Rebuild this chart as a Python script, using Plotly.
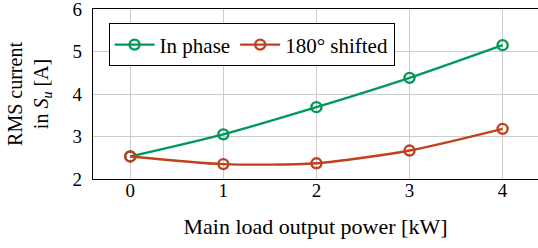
import plotly.graph_objects as go

power_kw = [0, 1, 2, 3, 4]
in_phase = [2.53, 3.05, 3.69, 4.38, 5.15]
shifted_180 = [2.53, 2.35, 2.37, 2.67, 3.18]
x_ticks = [0, 1, 2, 3, 4]
y_ticks = [2, 3, 4, 5, 6]

GREEN = "#00995a"
RED = "#c0401f"
FONT = "Liberation Serif"

fig = go.Figure()
for name, ys, col in [("In phase", in_phase, GREEN), ("180° shifted", shifted_180, RED)]:
    fig.add_trace(go.Scatter(
        x=power_kw, y=ys, name=name, mode="lines+markers",
        line=dict(color=col, width=2.4, shape="spline", smoothing=0.7),
        marker=dict(symbol="circle-open", size=10, color=col, line=dict(width=2.4, color=col)),
    ))

fig.update_layout(
    width=538, height=248,
    margin=dict(l=93, r=0, t=9, b=69),
    paper_bgcolor="white", plot_bgcolor="white",
    font=dict(family=FONT, size=19, color="black"),
    showlegend=True,
    legend=dict(orientation="h", x=0.035, y=0.915, xanchor="left", yanchor="top",
                bgcolor="white", bordercolor="black", borderwidth=1,
                font=dict(family=FONT, size=21), itemwidth=40, tracegroupgap=0),
)
fig.update_xaxes(range=[-0.4, 4.38], tickvals=x_ticks, showgrid=True, gridcolor="#cccccc",
                 gridwidth=1, showline=True, linecolor="black", linewidth=1.2, mirror=True,
                 ticks="", zeroline=False, automargin=False, ticklabelstandoff=-6,
                 tickfont=dict(family=FONT, size=19),
                 title=dict(text="Main load output power [kW]", font=dict(family=FONT, size=22), standoff=18))
fig.update_yaxes(range=[1.9999, 6.0001], tickvals=y_ticks, showgrid=True, gridcolor="#cccccc",
                 gridwidth=1, showline=True, linecolor="black", linewidth=1.2, mirror=True,
                 ticks="", zeroline=False, automargin=False, ticklabelstandoff=6,
                 ticklabeloverflow="allow",
                 tickfont=dict(family=FONT, size=19),
                 title=dict(text="RMS current<br>in <i>S</i><sub><i>u</i></sub> [A]", font=dict(family=FONT, size=20), standoff=18))

fig.write_html("out.html", config={"displayModeBar": False},
               post_script="document.body.style.margin='0';")
